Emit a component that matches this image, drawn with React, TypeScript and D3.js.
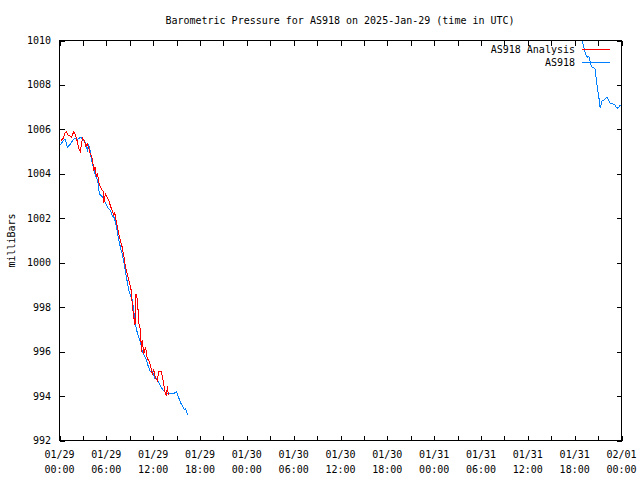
import React from "react";
import * as d3 from "d3";

const TITLE = "Barometric Pressure for AS918 on 2025-Jan-29 (time in UTC)";
const Y_LABEL = "milliBars";

// hours since 2025-01-29 00:00 UTC
const analysisHours = [0.2, 0.47, 0.7, 0.9, 1.09, 1.32, 1.54, 1.83, 1.99, 2.18, 2.43, 2.65, 2.82, 2.95, 3.16, 3.37, 3.59, 3.75, 3.88, 4.06, 4.23, 4.39, 4.55, 4.74, 4.83, 5.06, 5.25, 5.6, 5.68, 5.89, 6.11, 6.32, 6.53, 6.75, 6.96, 7.05, 7.3, 7.6, 7.81, 8.03, 8.24, 8.46, 8.67, 9.0, 9.22, 9.31, 9.52, 9.67, 9.8, 9.99, 10.16, 10.38, 10.5, 10.6, 10.8, 11.02, 11.24, 11.44, 11.66, 11.88, 12.08, 12.3, 12.52, 12.72, 13.03, 13.23, 13.45, 13.58, 13.67, 13.79, 13.87, 13.92];
const analysisValues = [1005.5, 1005.6, 1005.85, 1005.9, 1005.75, 1005.7, 1005.65, 1005.9, 1005.8, 1005.6, 1005.2, 1005.0, 1005.35, 1005.6, 1005.5, 1005.25, 1005.35, 1005.15, 1004.95, 1004.85, 1004.65, 1004.15, 1004.3, 1003.85, 1004.05, 1003.6, 1003.4, 1003.2, 1002.7, 1003.1, 1002.95, 1002.8, 1002.55, 1002.35, 1002.1, 1002.3, 1001.8, 1001.3, 1001.0, 1000.7, 1000.3, 999.8, 999.5, 999.05, 998.7, 998.15, 997.55, 997.2, 998.6, 998.3, 997.3, 996.95, 996.0, 996.5, 995.9, 996.2, 995.7, 995.6, 995.4, 995.0, 995.2, 994.8, 994.7, 995.1, 995.1, 994.8, 994.3, 994.1, 994.05, 994.3, 994.45, 994.05];

const obsHoursA = [0.13, 0.5, 0.77, 1.0, 1.3, 1.5, 1.9, 2.3, 2.7, 3.1, 3.3, 3.6, 3.7, 3.85, 4.1, 4.35, 4.6, 4.9, 5.1, 5.4, 5.6, 5.9, 6.15, 6.5, 6.8, 7.05, 7.3, 7.55, 7.8, 8.1, 8.3, 8.6, 8.85, 9.1, 9.35, 9.6, 9.85, 10.1, 10.4, 10.6, 10.9, 11.15, 11.4, 11.65, 11.9, 12.2, 12.4, 12.7, 12.95, 13.2, 13.45, 13.7, 14.2, 14.6, 15.0, 15.25, 15.5, 15.75, 16.0, 16.15, 16.4];
const obsValuesA = [1005.3, 1005.5, 1005.55, 1005.2, 1005.3, 1005.4, 1005.6, 1005.55, 1005.65, 1005.5, 1005.4, 1005.0, 1005.35, 1005.2, 1004.6, 1004.3, 1003.9, 1003.7, 1003.1, 1003.0, 1002.9, 1002.7, 1002.5, 1002.35, 1002.1, 1002.0, 1001.6, 1001.1, 1000.7, 1000.3, 999.9, 999.3, 998.8, 998.5, 998.3, 997.6, 997.0, 996.7, 996.4, 996.0, 995.8, 995.6, 995.3, 995.1, 995.1, 994.8, 994.8, 994.6, 994.45, 994.3, 994.2, 994.1, 994.1, 994.1, 994.2, 993.95, 993.7, 993.55, 993.4, 993.45, 993.15];

const obsHoursB = [66.94, 67.04, 67.17, 67.3, 67.47, 67.64, 67.81, 67.9, 68.02, 68.24, 68.58, 68.67, 68.79, 68.92, 69.05, 69.18, 69.27, 69.4, 69.52, 69.73, 69.95, 70.16, 70.37, 70.59, 70.81, 71.14, 71.32, 71.52, 71.65, 71.87];
const obsValuesB = [1010.1, 1009.87, 1009.7, 1009.5, 1009.35, 1009.25, 1009.3, 1009.2, 1008.95, 1008.8, 1008.75, 1008.6, 1008.15, 1007.85, 1007.55, 1007.25, 1006.95, 1007.15, 1007.3, 1007.3, 1007.4, 1007.45, 1007.3, 1007.15, 1007.15, 1007.1, 1007.0, 1006.95, 1007.0, 1007.1];

const xTickDates = ["01/29", "01/29", "01/29", "01/29", "01/30", "01/30", "01/30", "01/30", "01/31", "01/31", "01/31", "01/31", "02/01"];
const xTickTimes = ["00:00", "06:00", "12:00", "18:00", "00:00", "06:00", "12:00", "18:00", "00:00", "06:00", "12:00", "18:00", "00:00"];
const yTicks = [992, 994, 996, 998, 1000, 1002, 1004, 1006, 1008, 1010];

const seriesNames = ["AS918 Analysis", "AS918"];
const seriesColors = ["#ff0000", "#0080ff"];

const START = Date.UTC(2025, 0, 29, 0, 0);
const toDate = (h: number) => new Date(START + h * 3600 * 1000);

export default function App() {
  const W = 640, H = 480;
  const left = 59.5, right = 621.5, top = 40.5, bottom = 440.5;
  const x = d3.scaleUtc().domain([toDate(0), toDate(72)]).range([left, right]);
  const y = d3.scaleLinear().domain([992, 1010]).range([bottom, top]);
  const line = d3.line<[number, number]>().x(d => x(toDate(d[0]))).y(d => y(d[1]));
  const zip = (a: number[], b: number[]) => a.map((v, i) => [v, b[i]] as [number, number]);
  const paths = [
    { d: line(zip(obsHoursA, obsValuesA)), c: seriesColors[1] },
    { d: line(zip(obsHoursB, obsValuesB)), c: seriesColors[1] },
    { d: line(zip(analysisHours, analysisValues)), c: seriesColors[0] },
  ];
  const minorTicks = d3.range(0, 73, 3).map(h => Math.round(x(toDate(h))) + 0.5);
  const font = "'DejaVu Sans Mono', monospace";
  const tl = 5;
  return (
    <svg width={W} height={H} style={{ position: "absolute", left: 0, top: 0, background: "#fff" }} fontFamily={font} fontSize={10}>
      <rect x={0} y={0} width={W} height={H} fill="#fff" />
      <defs>
        <clipPath id="plot">
          <rect x={left} y={top} width={right - left} height={bottom - top} />
        </clipPath>
      </defs>
      <text x={W / 2 + 20} y={20} textAnchor="middle" dominantBaseline="central">{TITLE}</text>
      <text transform={`translate(11,${(top + bottom) / 2}) rotate(-90)`} textAnchor="middle" dominantBaseline="central">{Y_LABEL}</text>
      <g shapeRendering="crispEdges" stroke="#000" strokeWidth={1}>
        {minorTicks.map((px, i) => (
          <g key={"xt" + i}>
            <line x1={px} x2={px} y1={bottom} y2={bottom - tl} />
            <line x1={px} x2={px} y1={top} y2={top + tl} />
          </g>
        ))}
        {yTicks.map((v, i) => (
          <g key={"yt" + i}>
            <line x1={left} x2={left + tl} y1={Math.round(y(v)) + 0.5} y2={Math.round(y(v)) + 0.5} />
            <line x1={right} x2={right - tl} y1={Math.round(y(v)) + 0.5} y2={Math.round(y(v)) + 0.5} />
          </g>
        ))}
      </g>
      {yTicks.map((v, i) => (
        <text key={"yl" + i} x={51} y={y(v)} textAnchor="end" dominantBaseline="central">{v}</text>
      ))}
      {xTickDates.map((dstr, i) => {
        const px = x(toDate(i * 6));
        return (
          <g key={"xl" + i}>
            <text x={px} y={454} textAnchor="middle" dominantBaseline="central">{dstr}</text>
            <text x={px} y={469} textAnchor="middle" dominantBaseline="central">{xTickTimes[i]}</text>
          </g>
        );
      })}
      <g clipPath="url(#plot)" fill="none" strokeWidth={1} shapeRendering="crispEdges">
        {paths.map((p, i) => (
          <path key={i} d={p.d || ""} stroke={p.c} />
        ))}
      </g>
      {seriesNames.map((n, i) => (
        <g key={"lg" + i}>
          <text x={575} y={49 + i * 13} textAnchor="end" dominantBaseline="central">{n}</text>
          <line x1={582} x2={610} y1={49.5 + i * 13} y2={49.5 + i * 13} stroke={seriesColors[i]} shapeRendering="crispEdges" />
        </g>
      ))}
      <rect x={left} y={top} width={right - left} height={bottom - top} fill="none" stroke="#000" shapeRendering="crispEdges" />
    </svg>
  );
}
